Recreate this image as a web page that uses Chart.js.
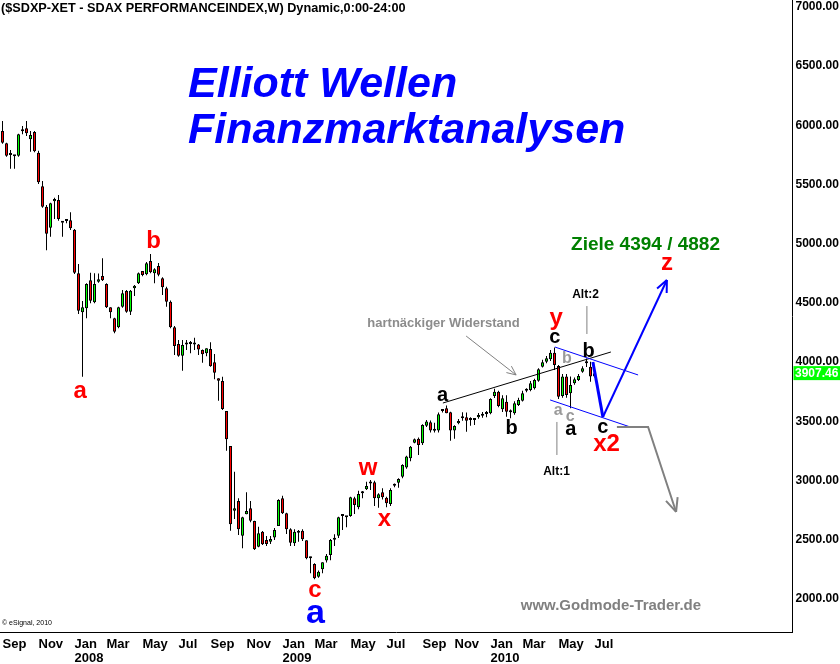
<!DOCTYPE html>
<html>
<head>
<meta charset="utf-8">
<title>SDAX Elliott Wellen</title>
<script src="https://cdn.jsdelivr.net/npm/chart.js@4.4.0/dist/chart.umd.min.js"></script>
<style>
  body { margin: 0; background: #fff; }
  canvas { display: block; }
</style>
</head>
<body>
<canvas id="sdaxChart" width="840" height="664"></canvas>
<script>
// SDAX Performanceindex, Wochenkerzen Sep 2007 - Jul 2010
const opens = [
    5953, 5849, 5750, 5746, 5744, 5950, 5975, 5883, 5944, 5769,
    5485, 5313, 5136, 5359, 5370, 5178, 5192, 5198, 5119, 4751,
    4421, 4455, 4692, 4506, 4679, 4728, 4660, 4464, 4371, 4295,
    4469, 4601, 4426, 4624, 4666, 4770, 4742, 4855, 4751, 4812,
    4708, 4624, 4511, 4295, 4153, 4055, 4150, 4153, 4150, 4150,
    4103, 4075, 4111, 3999, 3864, 3841, 3588, 3292, 2746, 2828,
    2535, 2715, 2766, 2659, 2441, 2568, 2498, 2484, 2520, 2617,
    2850, 2724, 2588, 2470, 2560, 2577, 2495, 2343, 2296, 2188,
    2251, 2324, 2371, 2500, 2534, 2700, 2690, 2701, 2850, 2774,
    2893, 2926, 2976, 2985, 2850, 2901, 2855, 2802, 2957, 2982,
    3033, 3111, 3188, 3320, 3354, 3315, 3464, 3492, 3420, 3422,
    3588, 3610, 3577, 3422, 3484, 3526, 3534, 3512, 3512, 3534,
    3548, 3563, 3568, 3714, 3751, 3602, 3666, 3577, 3568, 3638,
    3675, 3759, 3765, 3780, 3844, 3962, 4004, 4024, 4080, 3968,
    3714, 3878, 3737, 3822, 3850, 3920, 3997, 3962, 3878
]
const highs = [
    6037, 5854, 5792, 5750, 5930, 5995, 6037, 5953, 5953, 5786,
    5530, 5328, 5347, 5389, 5412, 5182, 5209, 5266, 5125, 4829,
    4517, 4666, 4756, 4751, 4750, 4877, 4666, 4464, 4376, 4469,
    4610, 4610, 4610, 4652, 4757, 4770, 4846, 4914, 4793, 4838,
    4717, 4638, 4520, 4306, 4187, 4187, 4187, 4179, 4207, 4153,
    4108, 4117, 4168, 4069, 3864, 3877, 3588, 3292, 3075, 2850,
    2695, 2901, 2828, 2661, 2610, 2575, 2532, 2532, 2600, 2842,
    2872, 2729, 2597, 2588, 2583, 2588, 2495, 2357, 2301, 2240,
    2310, 2380, 2507, 2546, 2695, 2710, 2695, 2864, 2864, 2915,
    2912, 2990, 3005, 2999, 2893, 2935, 2864, 2935, 2976, 3019,
    3137, 3210, 3292, 3355, 3363, 3476, 3512, 3507, 3489, 3574,
    3596, 3634, 3582, 3467, 3520, 3577, 3574, 3534, 3518, 3571,
    3580, 3588, 3695, 3776, 3759, 3720, 3720, 3600, 3670, 3700,
    3759, 3780, 3840, 3860, 3948, 4020, 4052, 4103, 4125, 3976,
    3900, 3900, 3878, 3870, 3900, 3965, 4030, 4004, 3930
]
const lows = [
    5845, 5736, 5634, 5634, 5736, 5925, 5910, 5778, 5773, 5505,
    5305, 4945, 5060, 5209, 5195, 5060, 5173, 5117, 4745, 4407,
    3877, 4371, 4497, 4497, 4670, 4686, 4458, 4371, 4244, 4286,
    4460, 4418, 4398, 4559, 4660, 4725, 4735, 4751, 4666, 4725,
    4567, 4469, 4286, 4061, 4046, 3928, 4103, 4075, 4103, 4060,
    3996, 4050, 3962, 3855, 3675, 3596, 3252, 2577, 2676, 2540,
    2428, 2715, 2648, 2414, 2436, 2456, 2447, 2464, 2498, 2616,
    2718, 2549, 2448, 2448, 2484, 2490, 2335, 2217, 2166, 2179,
    2217, 2307, 2327, 2448, 2515, 2583, 2605, 2695, 2718, 2757,
    2850, 2920, 2920, 2785, 2771, 2840, 2774, 2785, 2943, 2940,
    3019, 3100, 3163, 3315, 3216, 3300, 3453, 3405, 3405, 3405,
    3574, 3568, 3337, 3354, 3476, 3506, 3413, 3464, 3469, 3523,
    3530, 3534, 3560, 3698, 3619, 3580, 3540, 3526, 3555, 3630,
    3667, 3745, 3755, 3770, 3835, 3955, 3990, 4010, 3934, 3690,
    3700, 3700, 3610, 3810, 3840, 3910, 3960, 3835, 3870
]
const closes = [
    5854, 5744, 5760, 5740, 5925, 5950, 5933, 5919, 5781, 5519,
    5313, 5085, 5342, 5378, 5209, 5178, 5192, 5131, 4756, 4435,
    4463, 4660, 4519, 4660, 4700, 4692, 4464, 4421, 4257, 4464,
    4582, 4426, 4604, 4646, 4751, 4736, 4835, 4759, 4785, 4739,
    4632, 4511, 4295, 4137, 4055, 4145, 4150, 4153, 4155, 4108,
    4066, 4117, 3965, 3911, 3844, 3605, 3349, 2631, 2766, 2589,
    2690, 2743, 2661, 2420, 2555, 2462, 2464, 2507, 2583, 2836,
    2724, 2588, 2475, 2568, 2572, 2504, 2343, 2343, 2175, 2230,
    2310, 2366, 2498, 2512, 2690, 2700, 2690, 2859, 2794, 2887,
    2906, 2954, 2976, 2850, 2884, 2859, 2808, 2920, 2960, 3013,
    3132, 3203, 3286, 3349, 3300, 3469, 3498, 3422, 3436, 3560,
    3588, 3568, 3422, 3461, 3503, 3526, 3506, 3512, 3512, 3554,
    3560, 3563, 3689, 3751, 3630, 3695, 3582, 3577, 3653, 3681,
    3737, 3762, 3821, 3850, 3940, 3999, 4033, 4080, 3976, 3709,
    3878, 3723, 3807, 3855, 3883, 3948, 3990, 3878, 3907
]
const lastPrice = 3907.46

// Kursachse rechts
const yTickValues = [2000, 2500, 3000, 3500, 4000, 4500, 5000, 5500, 6000, 6500, 7000]

// Monatsbeschriftung: Index der ersten Woche im Monat
const tickWeeks = [0, 9, 18, 26, 35, 44, 52, 61, 70, 78, 87, 96, 105, 113, 122, 130, 139, 148]
const tickMonths = ['Sep', 'Nov', 'Jan', 'Mar', 'May', 'Jul', 'Sep', 'Nov', 'Jan', 'Mar', 'May', 'Jul', 'Sep', 'Nov', 'Jan', 'Mar', 'May', 'Jul']
const tickYears = ['', '', '2008', '', '', '', '', '', '2009', '', '', '', '', '', '2010', '', '', '']

const slotCount = 198   // Wochen inkl. freiem Platz rechts fuer die Prognose
const font = '"Liberation Sans", Arial, sans-serif'

const red = '#ff0000'
const grey = '#9a9a9a'

// Wellen-Beschriftung: [text, woche, kurs (grundlinie), farbe, groesse]
const waveLabels = [
    ['a', 19.4, 3698, red, 24],
    ['b', 37.75, 4964, red, 24],
    ['c', 78.1, 2017, red, 24],
    ['a', 78.25, 1797, '#0000ff', 34],
    ['w', 91.4, 3047, red, 24],
    ['x', 95.5, 2616, red, 24],
    ['y', 138.4, 4314, red, 24],
    ['x2', 151, 3250, red, 24],
    ['z', 166.1, 4779, red, 24],
    ['a', 110, 3672, '#000', 20],
    ['b', 127.25, 3393, '#000', 20],
    ['c', 138.1, 4162, '#000', 20],
    ['b', 146.5, 4044, '#000', 20],
    ['a', 142.1, 3385, '#000', 20],
    ['c', 150.1, 3402, '#000', 20],
    ['b', 141.1, 3993, grey, 16],
    ['a', 138.9, 3554, grey, 16],
    ['c', 141.9, 3503, grey, 16],
    ['Alt:2', 145.75, 4542, '#000', 12],
    ['Alt:1', 138.5, 3047, '#000', 12],
    ['hartnäckiger Widerstand', 110.25, 4297, '#8c8c8c', 13],
    ['Ziele 4394 / 4882', 160.75, 4948, '#008000', 19],
    ['www.Godmode-Trader.de', 152.1, 1907, '#808080', 15]
]

// Linien und Pfeile, Punkte als [woche, kurs]
const guideLines = [
    { pts: [[110.1, 3655], [152.1, 4086]], color: '#000', width: 1 },
    { pts: [[138.1, 4128], [158.9, 3892]], color: '#0000ff', width: 1 },
    { pts: [[136.9, 3681], [156.9, 3453]], color: '#0000ff', width: 1 },
    { pts: [[147.6, 4002], [150.1, 3537]], color: '#0000ff', width: 3 },
    { pts: [[150.1, 3537], [166.1, 4694]], color: '#0000ff', width: 2, arrow: 13 },
    { pts: [[153.6, 3453], [161.4, 3453], [168.4, 2735]], color: '#808080', width: 2, arrow: 15 },
    { pts: [[115.9, 4221], [128.4, 3892]], color: '#808080', width: 1, arrow: 10 },
    { pts: [[146.1, 4474], [146.1, 4238]], color: '#808080', width: 1 },
    { pts: [[138.6, 3495], [138.6, 3216]], color: '#808080', width: 1 }
]

const bodies = opens.map((o, i) => [Math.min(o, closes[i]), Math.max(o, closes[i])])
const wicks = lows.map((l, i) => [l, highs[i]])
const bodyColors = opens.map((o, i) => closes[i] > o ? '#00ff00' : closes[i] < o ? '#ff0000' : '#000')

function polyline(c, pts, color, width, arrow) {
    c.strokeStyle = color
    c.lineWidth = width
    c.beginPath()
    pts.forEach((p, k) => k ? c.lineTo(p[0], p[1]) : c.moveTo(p[0], p[1]))
    c.stroke()
    if (arrow) {
        const [x1, y1] = pts[pts.length - 2]
        const [x2, y2] = pts[pts.length - 1]
        const ang = Math.atan2(y2 - y1, x2 - x1)
        c.beginPath()
        for (const s of [-1, 1]) {
            c.moveTo(x2, y2)
            c.lineTo(x2 - arrow * Math.cos(ang + s * 0.42), y2 - arrow * Math.sin(ang + s * 0.42))
        }
        c.stroke()
    }
}

const drawings = {
    id: 'drawings',
    afterDraw(chart) {
        const c = chart.ctx
        const xs = chart.scales.x
        const ys = chart.scales.y
        const area = chart.chartArea
        const px = (w, p) => [xs.getPixelForValue(w), ys.getPixelForValue(p)]
        c.save()

        guideLines.forEach(g => polyline(c, g.pts.map(p => px(p[0], p[1])), g.color, g.width, g.arrow))

        c.textAlign = 'center'
        c.textBaseline = 'alphabetic'
        waveLabels.forEach(([t, w, p, col, size]) => {
            const [x, y] = px(w, p)
            c.font = 'bold ' + size + 'px ' + font
            c.fillStyle = col
            c.fillText(t, x, y)
        })

        // Kopfzeile und grosser Titel
        c.textAlign = 'left'
        c.fillStyle = '#000'
        c.font = 'bold 12.7px ' + font
        c.fillText('($SDXP-XET - SDAX PERFORMANCEINDEX,W) Dynamic,0:00-24:00', area.left + 0.5, 12)
        c.fillStyle = '#0000ff'
        c.font = 'bold italic 43px ' + font
        c.fillText('Elliott Wellen', 188, 97)
        c.fillText('Finanzmarktanalysen', 188, 143)
        c.fillStyle = '#000'
        c.font = '7px ' + font
        c.fillText('© eSignal, 2010', 2, 625)

        // letzter Kurs am rechten Rand
        const yLast = ys.getPixelForValue(lastPrice)
        c.fillStyle = '#00ff00'
        c.fillRect(area.right + 1, yLast - 7, 840 - area.right, 14)
        c.fillStyle = '#fff'
        c.font = 'bold 12px ' + font
        c.textBaseline = 'middle'
        c.fillText(lastPrice.toFixed(2), area.right + 2.5, yLast + 0.5)
        c.restore()
    }
}

const ctx = document.getElementById('sdaxChart').getContext('2d')
const sdaxChart = new Chart(ctx, {
    type: 'bar',
    data: {
        labels: Array.from({ length: slotCount }, (_, i) => i),
        datasets: [
            {
                label: 'Kerzen',
                data: bodies,
                backgroundColor: bodyColors,
                borderColor: '#000',
                borderWidth: 1,
                borderSkipped: false,
                barThickness: 3,
                minBarLength: 2,
                grouped: false,
                inflateAmount: 0
            },
            {
                label: 'Dochte',
                data: wicks,
                backgroundColor: '#000',
                borderWidth: 0,
                barThickness: 1,
                grouped: false,
                inflateAmount: 0
            }
        ]
    },
    options: {
        responsive: false,
        animation: false,
        devicePixelRatio: 1,
        layout: { padding: { left: 0.5, top: 0, right: 0, bottom: 0 } },
        plugins: {
            legend: { display: false },
            tooltip: { enabled: false }
        },
        scales: {
            x: {
                type: 'category',
                offset: true,
                grid: { display: false, drawTicks: false },
                border: { display: true, color: '#000', width: 1 },
                ticks: {
                    autoSkip: false,
                    maxRotation: 0,
                    minRotation: 0,
                    align: 'start',
                    padding: 6,
                    color: '#000',
                    font: { family: font, size: 13, weight: 'bold', lineHeight: 1.05 },
                    callback: function (value, index) {
                        const k = tickWeeks.indexOf(index)
                        if (k < 0) return ''
                        return tickYears[k] ? [tickMonths[k], tickYears[k]] : tickMonths[k]
                    }
                },
                afterFit: scale => {
                    scale.height = 32
                    scale.paddingLeft = 0
                    scale.paddingRight = 0
                }
            },
            y: {
                position: 'right',
                min: 1721,
                max: 7059,
                grid: { display: false, drawTicks: false },
                border: { display: true, color: '#000', width: 1 },
                ticks: {
                    padding: 3,
                    color: '#000',
                    font: { family: font, size: 12, weight: 'bold' },
                    callback: value => value.toFixed(2)
                },
                afterBuildTicks: scale => { scale.ticks = yTickValues.map(v => ({ value: v })) },
                afterFit: scale => {
                    scale.width = 47.5
                    scale.paddingTop = 0
                    scale.paddingBottom = 0
                }
            }
        }
    },
    plugins: [drawings]
})
</script>
</body>
</html>
